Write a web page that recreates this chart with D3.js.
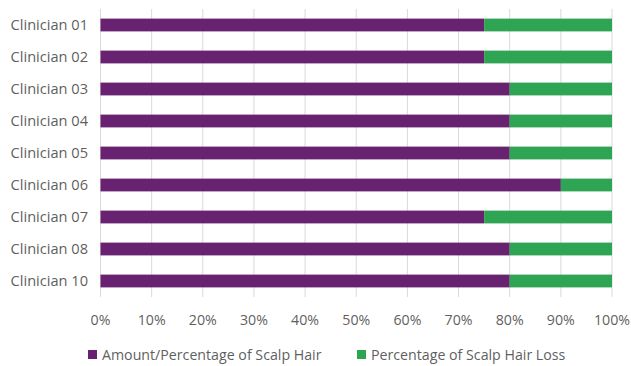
<!DOCTYPE html>
<html>
<head>
<meta charset="utf-8">
<script src="https://cdnjs.cloudflare.com/ajax/libs/d3/7.8.5/d3.min.js"></script>
<style>
    body { margin: 0; background: #fff; }
    text { font-family: "Open Sans", sans-serif; fill: #5f5f5f; }
</style>
</head>
<body>
<svg id="chart"></svg>
<script>
const categories = ['Clinician 01', 'Clinician 02', 'Clinician 03', 'Clinician 04', 'Clinician 05',
    'Clinician 06', 'Clinician 07', 'Clinician 08', 'Clinician 10'];
const scalpHair = [75, 75, 80, 80, 80, 90, 75, 80, 80];
const hairLoss = [25, 25, 20, 20, 20, 10, 25, 20, 20];
const seriesNames = ['Amount/Percentage of Scalp Hair', 'Percentage of Scalp Hair Loss'];
const seriesColors = ['#68226f', '#2ea552'];
const xTicks = [0, 10, 20, 30, 40, 50, 60, 70, 80, 90, 100];

const width = 631;
const height = 366;
const margin = { top: 9, right: 19, bottom: 69, left: 100.5 };

const svg = d3.select('#chart').attr('width', width).attr('height', height);

const x = d3.scaleLinear().domain([0, 100]).range([margin.left, width - margin.right]);
const y = d3.scaleBand().domain(categories).range([margin.top, height - margin.bottom]).paddingInner(0.6).paddingOuter(0.3);

// gridlines
svg.append('g')
    .selectAll('line')
    .data(xTicks)
    .enter()
    .append('line')
    .attr('x1', (d) => x(d))
    .attr('x2', (d) => x(d))
    .attr('y1', margin.top)
    .attr('y2', height - margin.bottom)
    .attr('stroke', '#d9d9d9')
    .attr('stroke-width', 1);

const table = categories.map((c, i) => ({ cat: c, a: scalpHair[i], b: hairLoss[i] }));
const stacked = d3.stack().keys(['a', 'b'])(table);

svg.append('g')
    .selectAll('g')
    .data(stacked)
    .enter()
    .append('g')
    .attr('fill', (d, i) => seriesColors[i])
    .selectAll('rect')
    .data((d) => d)
    .enter()
    .append('rect')
    .attr('x', (d) => x(d[0]))
    .attr('width', (d) => x(d[1]) - x(d[0]))
    .attr('y', (d) => y(d.data.cat))
    .attr('height', y.bandwidth());

// y labels
svg.append('g')
    .selectAll('text')
    .data(categories)
    .enter()
    .append('text')
    .attr('x', 88)
    .attr('y', (d) => y(d) + y.bandwidth() / 2)
    .attr('dy', '0.35em')
    .attr('text-anchor', 'end')
    .attr('font-size', 14.6)
    .text((d) => d);

// x labels
svg.append('g')
    .selectAll('text')
    .data(xTicks)
    .enter()
    .append('text')
    .attr('x', (d) => x(d))
    .attr('y', 320)
    .attr('dy', '0.35em')
    .attr('text-anchor', 'middle')
    .attr('font-size', 14.2)
    .text((d) => d + '%');

// legend
const legendX = [88, 357];
const legend = svg.append('g')
    .selectAll('g')
    .data(seriesNames)
    .enter()
    .append('g')
    .attr('transform', (d, i) => 'translate(' + legendX[i] + ',355)');
legend.append('rect')
    .attr('x', 0)
    .attr('y', -5)
    .attr('width', 9)
    .attr('height', 9)
    .attr('fill', (d, i) => seriesColors[i]);
legend.append('text')
    .attr('x', 14)
    .attr('y', 0)
    .attr('dy', '0.35em')
    .attr('font-size', 14.2)
    .text((d) => d);
</script>
</body>
</html>
